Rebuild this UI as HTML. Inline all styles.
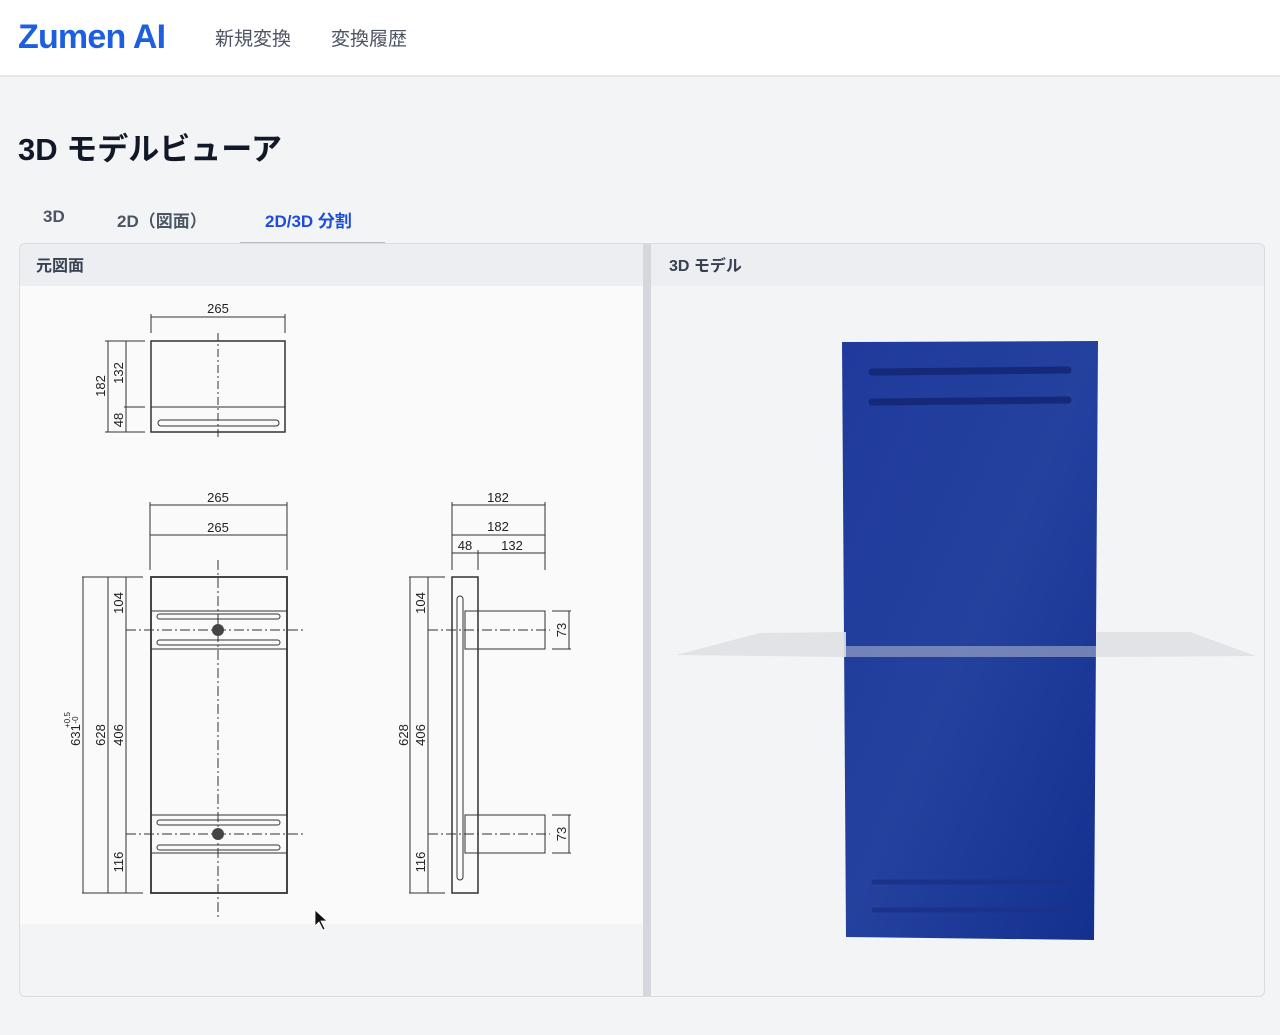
<!DOCTYPE html>
<html><head><meta charset="utf-8"><style>
*{margin:0;padding:0;box-sizing:border-box}
body{width:1280px;height:1035px;background:#f3f4f6;font-family:"Liberation Sans","Noto Sans CJK JP",sans-serif;position:relative;overflow:hidden}
.hdr{position:absolute;left:0;top:0;width:1280px;height:77px;background:#fff;border-bottom:2px solid #e5e7eb}
.logo{position:absolute;left:18px;top:18px;font-size:34px;font-weight:bold;color:#1d5fe0;letter-spacing:-0.8px}
.nav{position:absolute;top:24px;font-size:19px;color:#4b5563}
h1{position:absolute;left:18px;top:124px;font-size:31px;font-weight:bold;color:#111827}
.tab{position:absolute;top:207px;font-size:17px;font-weight:bold;color:#4b5563}
.panel{position:absolute;left:19px;top:243px;width:1246px;height:754px;border:1px solid #d9dce1;border-radius:6px;background:#f3f4f6;overflow:hidden}
</style></head><body>
<div class="hdr">
<div class="logo">Zumen AI</div>
<div class="nav" style="left:215px">新規変換</div>
<div class="nav" style="left:331px">変換履歴</div>
</div>
<h1>3D モデルビューア</h1>
<div class="tab" style="left:43px">3D</div>
<div class="tab" style="left:117px">2D（図面）</div>
<div class="tab" style="left:265px;color:#1d4ed8">2D/3D 分割</div>
<div style="position:absolute;left:240px;top:242px;width:145px;height:2px;background:#b5bac2"></div>
<div class="panel">
<div style="position:absolute;left:0;top:0;width:623px;height:42px;background:#eceef1"></div>
<div style="position:absolute;left:16px;top:8px;font-size:16px;font-weight:bold;color:#374151">元図面</div>
<div style="position:absolute;left:0;top:42px;width:623px;height:638px;background:#fafafa"></div>
<div style="position:absolute;left:623px;top:0;width:8px;height:754px;background:#d4d7dc"></div>
<div style="position:absolute;left:631px;top:0;width:615px;height:42px;background:#eceef1"></div>
<div style="position:absolute;left:649px;top:8px;font-size:16px;font-weight:bold;color:#374151">3D モデル</div>
</div>
<svg style="position:absolute;left:0;top:0" width="1280" height="1035" font-family="Liberation Sans, sans-serif">
<g stroke="#333" stroke-width="1" fill="none">
<rect x="151" y="341" width="134" height="91" stroke-width="1.5"/>
<line x1="151" y1="407" x2="285" y2="407"/>
<rect x="158" y="420" width="121" height="6" rx="3"/>
<line x1="218" y1="333" x2="218" y2="440" stroke-dasharray="8,3,2,3"/>
<line x1="151" y1="317" x2="285" y2="317"/><line x1="151" y1="314" x2="151" y2="333"/><line x1="285" y1="314" x2="285" y2="333"/>
<line x1="108" y1="341" x2="108" y2="432"/><line x1="126" y1="341" x2="126" y2="432"/>
<line x1="105" y1="341" x2="145" y2="341"/><line x1="105" y1="432" x2="145" y2="432"/><line x1="124" y1="407" x2="145" y2="407"/>
<rect x="151" y="577" width="136" height="316" stroke-width="1.8"/>
<rect x="151" y="611" width="136" height="38"/><rect x="151" y="815" width="136" height="38"/>
<rect x="157" y="614" width="123" height="5" rx="2.5"/><rect x="157" y="640" width="123" height="5" rx="2.5"/>
<rect x="157" y="820" width="123" height="5" rx="2.5"/><rect x="157" y="845" width="123" height="5" rx="2.5"/>
<line x1="218" y1="560" x2="218" y2="918" stroke-dasharray="10,3,2,3"/>
<line x1="126" y1="630" x2="303" y2="630" stroke-dasharray="10,3,2,3"/>
<line x1="126" y1="834" x2="303" y2="834" stroke-dasharray="10,3,2,3"/>
<line x1="150" y1="505" x2="287" y2="505"/><line x1="150" y1="535" x2="287" y2="535"/>
<line x1="150" y1="502" x2="150" y2="570"/><line x1="287" y1="502" x2="287" y2="570"/>
<line x1="83" y1="577" x2="83" y2="893"/><line x1="108" y1="577" x2="108" y2="893"/><line x1="126" y1="577" x2="126" y2="893"/>
<line x1="82" y1="577" x2="143" y2="577"/><line x1="82" y1="893" x2="143" y2="893"/>
<rect x="452" y="577" width="26" height="316" stroke-width="1.5"/>
<rect x="457" y="596" width="6" height="284" rx="3"/>
<rect x="465" y="611" width="80" height="38"/><rect x="465" y="815" width="80" height="38"/>
<line x1="428" y1="630" x2="550" y2="630" stroke-dasharray="10,3,2,3"/>
<line x1="428" y1="834" x2="550" y2="834" stroke-dasharray="10,3,2,3"/>
<line x1="452" y1="505" x2="545" y2="505"/><line x1="452" y1="535" x2="545" y2="535"/><line x1="452" y1="553" x2="545" y2="553"/>
<line x1="452" y1="502" x2="452" y2="570"/><line x1="545" y1="502" x2="545" y2="570"/><line x1="478" y1="550" x2="478" y2="570"/>
<line x1="410" y1="577" x2="410" y2="893"/><line x1="428" y1="577" x2="428" y2="893"/>
<line x1="409" y1="577" x2="445" y2="577"/><line x1="409" y1="893" x2="445" y2="893"/>
<line x1="569" y1="611" x2="569" y2="649"/><line x1="569" y1="815" x2="569" y2="853"/>
<line x1="552" y1="611" x2="571" y2="611"/><line x1="552" y1="649" x2="571" y2="649"/>
<line x1="552" y1="815" x2="571" y2="815"/><line x1="552" y1="853" x2="571" y2="853"/>
</g>
<circle cx="218" cy="630" r="6" fill="#444"/><circle cx="218" cy="834" r="6" fill="#444"/>
<g font-size="13" fill="#222" text-anchor="middle">
<text x="218" y="313">265</text><text x="218" y="502">265</text><text x="218" y="532">265</text>
<text x="498" y="502">182</text><text x="498" y="531">182</text><text x="465" y="550">48</text><text x="512" y="550">132</text>
<text transform="translate(105,386) rotate(-90)">182</text>
<text transform="translate(123,373) rotate(-90)">132</text>
<text transform="translate(123,420) rotate(-90)">48</text>
<text transform="translate(123,603) rotate(-90)">104</text>
<text transform="translate(123,735) rotate(-90)">406</text>
<text transform="translate(123,862) rotate(-90)">116</text>
<text transform="translate(105,735) rotate(-90)">628</text>
<text transform="translate(80,735) rotate(-90)">631</text>
<text transform="translate(70,720) rotate(-90)" font-size="8">+0.5</text>
<text transform="translate(78,720) rotate(-90)" font-size="8">-0</text>
<text transform="translate(425,603) rotate(-90)">104</text>
<text transform="translate(425,735) rotate(-90)">406</text>
<text transform="translate(425,862) rotate(-90)">116</text>
<text transform="translate(408,735) rotate(-90)">628</text>
<text transform="translate(566,630) rotate(-90)">73</text>
<text transform="translate(566,834) rotate(-90)">73</text>
</g>
<path d="M315,910 L315,926 L319,922 L323,930 L325,929 L321,921 L327,921 Z" fill="#111" stroke="#fff" stroke-width="0.8"/>
<defs><linearGradient id="g" x1="0" y1="0" x2="1" y2="1"><stop offset="0" stop-color="#1f3a9c"/><stop offset="0.5" stop-color="#24419e"/><stop offset="1" stop-color="#13308f"/></linearGradient></defs>
<polygon points="842,342 1098,341 1094,940 846,937" fill="url(#g)"/>
<g stroke="#142a78" stroke-width="7" stroke-linecap="round"><line x1="872" y1="372" x2="1068" y2="370"/><line x1="872" y1="402" x2="1068" y2="400"/></g>
<g stroke="#1a3388" stroke-width="5" stroke-linecap="round"><line x1="874" y1="882" x2="1066" y2="882"/><line x1="874" y1="910" x2="1066" y2="910"/></g>
<polygon points="760,633 846,632 846,657 676,655" fill="#dfe1e6" opacity="0.9"/>
<polygon points="1096,632 1190,632 1256,656 1096,657" fill="#dfe1e6" opacity="0.9"/>
<polygon points="846,646 1096,646 1096,657 846,657" fill="#aab3cc" opacity="0.6"/>
</svg>
</body></html>
